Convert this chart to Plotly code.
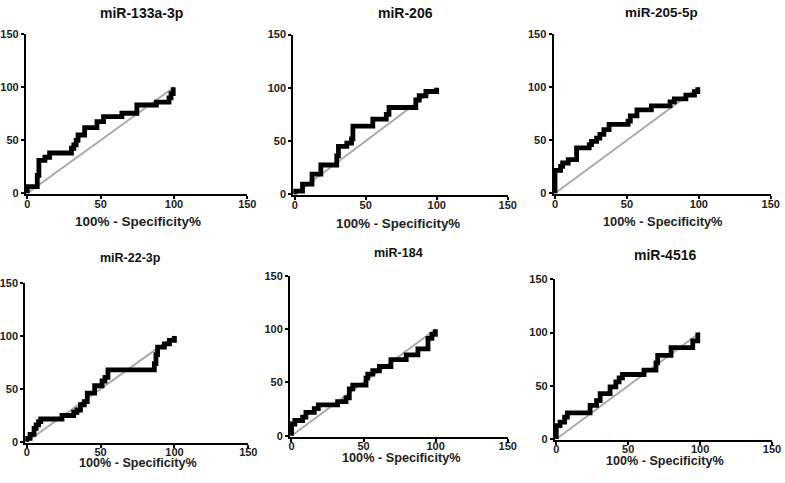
import plotly.graph_objects as go

# ---------------- data ----------------
titles = ["miR-133a-3p", "miR-206", "miR-205-5p", "miR-22-3p", "miR-184", "miR-4516"]
x_title = "100% - Specificity%"
tick_vals = [0, 50, 100, 150]
diag_x = [0, 100]
diag_y = [0, 100]

# ROC step curves: 100% - specificity (x) and sensitivity (y)
fpr_133a = [0, 0, 6.8, 7.9, 12, 15.2, 30.1, 31.7, 33.3, 34.6, 39.1, 47.5, 52, 64.5, 74.7, 88, 96.6, 98, 99.5]
sen_133a = [0, 6.3, 17, 31, 34, 38, 42.5, 45.6, 50, 55, 62, 67.6, 72.3, 75.5, 83.3, 86, 90, 94, 100]

fpr_206 = [0, 0, 5.5, 12.2, 18.4, 29.6, 30.8, 36.7, 40, 41, 55, 64.5, 66.4, 85.3, 87.7, 92.4, 100]
sen_206 = [0, 3, 9.5, 19, 27.5, 36, 45, 48, 52, 64, 70.5, 75, 81.5, 88.5, 92.5, 96.5, 100]

fpr_205 = [0, 0, 3.9, 5.3, 9.2, 15, 23.8, 25.4, 28.9, 31.2, 34, 37.6, 50.8, 52.4, 57, 67, 80, 83, 91, 97, 99.3]
sen_205 = [0, 21.6, 25.4, 28.6, 31.7, 42.9, 46, 49, 52, 55.5, 60, 65, 68, 73, 78.7, 82.5, 86.3, 89, 92.7, 95.9, 100]

fpr_22 = [0, 0, 2.3, 5, 6.4, 8, 9.5, 23.9, 31.8, 34, 36.4, 39, 41, 46, 51, 53, 55, 86.4, 87.5, 88.6, 93.2, 96.6, 100]
sen_22 = [0, 3.2, 7, 12.7, 15.9, 19, 21.5, 24.8, 27.9, 30, 35, 38, 46, 53, 57.5, 61, 68, 74, 82.5, 89.5, 92.7, 95.9, 100]

fpr_184 = [0, 0, 2.3, 7.7, 10, 15.8, 18.6, 32, 37.8, 40.1, 42.5, 51.7, 52.9, 56.4, 61, 69, 79.6, 87.7, 94.7, 97.4, 99.8]
sen_184 = [0, 11, 14.3, 17.5, 22, 25.4, 29, 32, 35.5, 44, 47.5, 54, 57.8, 61, 65, 71.5, 76, 81.5, 91.5, 95.2, 100]

fpr_4516 = [0, 0, 2.6, 5.8, 7.7, 23.5, 28, 30.5, 37.4, 41.4, 43.7, 46, 61, 69.3, 70.5, 79.8, 94.9, 98.4]
sen_4516 = [0, 12.6, 15.8, 20.5, 24.6, 31.5, 36, 42.6, 48.9, 53.6, 57.4, 60.6, 64.7, 71.5, 78.5, 85.8, 92.1, 100]

curves = [(fpr_133a, sen_133a), (fpr_206, sen_206), (fpr_205, sen_205),
          (fpr_22, sen_22), (fpr_184, sen_184), (fpr_4516, sen_4516)]

# ---------------- layout (pixel geometry) ----------------
W, H = 785, 483
# (px of x=0, px of x=150, py of y=0, py of y=150)
boxes = [(27.3, 247.3, 193.3, 34.3), (294.7, 507.7, 194.3, 34.5), (555, 770.7, 193.3, 34.3),
         (26.7, 248.3, 441.7, 283.3), (291.5, 507.7, 435.7, 276), (556.3, 772, 439, 279.3)]
title_pos = [(141, 12.7), (405, 12.7), (661, 12.7), (130, 258.3), (398, 252.7), (665, 255)]
title_size = [14, 14, 13.5, 12.5, 12.5, 14]
xtitle_pos = [(138, 221.5), (398, 223), (663, 221.5), (138.3, 463), (400.5, 458), (665.3, 460.5)]
xtitle_size = [13.5, 13.3, 12.8, 12.6, 12.7, 12.6]

FONT = "Liberation Sans, Arial, sans-serif"
LO = -1.0

fig = go.Figure()
layout = dict(width=W, height=H, margin=dict(l=0, r=0, t=0, b=0, pad=0, autoexpand=False),
              template="none",
              paper_bgcolor="white", plot_bgcolor="white", showlegend=False)
annotations = []

for i, ((fx, sy), (x0, x150, y0, y150)) in enumerate(zip(curves, boxes)):
    sfx = "" if i == 0 else str(i + 1)
    fig.add_trace(go.Scatter(x=diag_x, y=diag_y, mode="lines",
                             line=dict(color="#a9a9a9", width=2),
                             xaxis="x" + sfx, yaxis="y" + sfx, hoverinfo="skip"))
    fig.add_trace(go.Scatter(x=fx, y=sy, mode="lines",
                             line=dict(color="black", width=4.8, shape="hv"),
                             xaxis="x" + sfx, yaxis="y" + sfx))
    ppx = (x150 - x0) / 150.0
    ppy = (y0 - y150) / 150.0
    left = x0 + LO * ppx
    bottom = y0 - LO * ppy
    axcommon = dict(range=[LO, 150], tickvals=tick_vals, showgrid=False, zeroline=False,
                    showline=True, linecolor="black", linewidth=2, automargin=False,
                    ticks="outside", ticklen=3, tickwidth=1.5, tickcolor="black",
                    tickfont=dict(family=FONT, size=11, color="#222", weight="bold"),
                    fixedrange=True)
    layout["xaxis" + sfx] = dict(axcommon, domain=[left / W, x150 / W], anchor="y" + sfx,
                                 ticklabelstandoff=-5)
    layout["yaxis" + sfx] = dict(axcommon, domain=[1 - bottom / H, 1 - y150 / H], anchor="x" + sfx)
    tx, ty = title_pos[i]
    annotations.append(dict(text="<b>%s</b>" % titles[i], x=tx / W, y=1 - ty / H,
                            xref="paper", yref="paper", showarrow=False,
                            xanchor="center", yanchor="middle",
                            font=dict(family=FONT, size=title_size[i], color="#111")))
    ax_, ay_ = xtitle_pos[i]
    annotations.append(dict(text="<b>%s</b>" % x_title, x=ax_ / W, y=1 - ay_ / H,
                            xref="paper", yref="paper", showarrow=False,
                            xanchor="center", yanchor="middle",
                            font=dict(family=FONT, size=xtitle_size[i], color="#222")))

layout["annotations"] = annotations
fig.update_layout(**layout)
fig.write_html("out.html", config={"displayModeBar": False},
               post_script="document.body.style.margin='0px';")
